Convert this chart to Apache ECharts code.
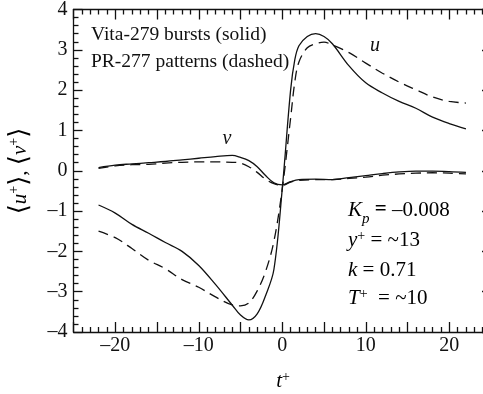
<!DOCTYPE html>
<html>
<head>
<meta charset="utf-8">
<script src="https://cdn.jsdelivr.net/npm/echarts@6/dist/echarts.min.js"></script>
<style>
  html, body { margin: 0; padding: 0; background: #fff; }
  #chart { width: 483px; height: 394px; }
</style>
</head>
<body>
<div id="chart"></div>
<script>
// t+ samples and conditionally averaged values
const tU = [-22, -20, -18, -16, -14, -12, -10, -8, -6, -5, -4, -3, -2, -1, 0, 1, 1.5, 2, 3, 4, 5, 6, 8, 10, 12, 14, 16, 18, 20, 22];
const uSolid = [-0.85, -1.05, -1.33, -1.55, -1.78, -2.00, -2.35, -2.82, -3.33, -3.58, -3.70, -3.55, -3.10, -2.45, -0.45, 2.00, 2.75, 3.10, 3.33, 3.40, 3.33, 3.15, 2.60, 2.18, 1.93, 1.72, 1.55, 1.33, 1.17, 1.04];
const uDashed = [-1.50, -1.66, -1.93, -2.22, -2.43, -2.70, -2.89, -3.13, -3.33, -3.35, -3.28, -2.98, -2.50, -1.75, -0.45, 1.30, 2.20, 2.70, 3.05, 3.15, 3.19, 3.12, 2.93, 2.67, 2.42, 2.20, 2.01, 1.83, 1.72, 1.68];

const tV = [-22, -20, -18, -16, -14, -12, -10, -8, -6, -5, -4, -3, -2, -1, 0, 1, 2, 4, 6, 8, 10, 12, 14, 16, 18, 20, 22];
const vSolid = [0.08, 0.14, 0.17, 0.20, 0.23, 0.27, 0.31, 0.35, 0.38, 0.33, 0.25, 0.10, -0.12, -0.30, -0.35, -0.27, -0.22, -0.21, -0.22, -0.17, -0.12, -0.07, -0.03, -0.01, -0.01, -0.02, -0.04];
const vDashed = [0.06, 0.12, 0.15, 0.16, 0.19, 0.21, 0.22, 0.22, 0.21, 0.19, 0.10, -0.04, -0.21, -0.32, -0.36, -0.28, -0.24, -0.22, -0.22, -0.19, -0.16, -0.11, -0.08, -0.06, -0.05, -0.06, -0.08];

const serif = 'Liberation Serif, DejaVu Serif, serif';
const ink = '#111';

function pairs(xs, ys) {
    return xs.map((x, i) => [x, ys[i]]);
}

function minusFmt(v) {
    return v < 0 ? '\u2013' + Math.abs(v) : String(v);
}

const chart = echarts.init(document.getElementById('chart'), null, { renderer: 'canvas' });

const richStyles = {
    n: { fontFamily: serif, fontSize: 21, color: ink },
    i: { fontFamily: serif, fontSize: 21, fontStyle: 'italic', color: ink },
    sup: { fontFamily: serif, fontSize: 14, color: ink, verticalAlign: 'top', lineHeight: 21 },
    sub: { fontFamily: serif, fontSize: 15, fontStyle: 'italic', color: ink, verticalAlign: 'bottom', padding: [0, 0, -6, 0] },
    b: { fontFamily: serif, fontSize: 21, fontWeight: 'bold', color: ink },
    br: { fontFamily: serif, fontSize: 26, color: ink }
};

function lineSeries(data, dashed) {
    return {
        type: 'line',
        data: data,
        showSymbol: false,
        smooth: 0.35,
        silent: true,
        lineStyle: { color: ink, width: 1.3, type: dashed ? [10, 6] : 'solid' }
    };
}

const xCommon = {
    type: 'value',
    min: -25,
    max: 25,
    interval: 5,
    axisLine: { onZero: false, lineStyle: { color: ink, width: 1.3 } },
    axisTick: { inside: true, length: 10, lineStyle: { color: ink, width: 1.3 } },
    minorTick: { show: true, splitNumber: 5, length: 5, lineStyle: { color: ink, width: 1.3 } },
    splitLine: { show: false },
    minorSplitLine: { show: false }
};

const yCommon = {
    type: 'value',
    min: -4,
    max: 4,
    interval: 1,
    axisLine: { onZero: false, lineStyle: { color: ink, width: 1.3 } },
    axisTick: { inside: true, length: 9, lineStyle: { color: ink, width: 1.3 } },
    minorTick: { show: true, splitNumber: 5, length: 5, lineStyle: { color: ink, width: 1.3 } },
    splitLine: { show: false },
    minorSplitLine: { show: false }
};

const option = {
    backgroundColor: '#fff',
    animation: false,
    grid: { left: 73.5, top: 9.5, right: -8, bottom: 62, outerBoundsMode: 'none' },
    xAxis: [
        Object.assign({}, xCommon, {
            position: 'bottom',
            axisLabel: {
                margin: 4,
                fontFamily: serif,
                fontSize: 20,
                color: ink,
                formatter: v => (v % 10 === 0 && Math.abs(v) < 25) ? minusFmt(v) : ''
            }
        }),
        Object.assign({}, xCommon, { position: 'top', axisLabel: { show: false } })
    ],
    yAxis: [
        Object.assign({}, yCommon, {
            position: 'left',
            axisLabel: { margin: 6, fontFamily: serif, fontSize: 20, color: ink, formatter: minusFmt }
        }),
        Object.assign({}, yCommon, { position: 'right', axisLabel: { show: false } })
    ],
    series: [
        lineSeries(pairs(tU, uSolid), false),
        lineSeries(pairs(tU, uDashed), true),
        lineSeries(pairs(tV, vSolid), false),
        lineSeries(pairs(tV, vDashed), true)
    ],
    graphic: [
        { type: 'text', x: 91, y: 35, style: { text: 'Vita-279 bursts (solid)', font: '19.5px ' + serif, fill: ink, verticalAlign: 'middle' } },
        { type: 'text', x: 91, y: 62, style: { text: 'PR-277 patterns (dashed)', font: '19.5px ' + serif, fill: ink, verticalAlign: 'middle' } },
        { type: 'text', x: 375, y: 46, style: { text: 'u', font: 'italic 20px ' + serif, fill: ink, align: 'center', verticalAlign: 'middle' } },
        { type: 'text', x: 227, y: 139, style: { text: 'v', font: 'italic 20px ' + serif, fill: ink, align: 'center', verticalAlign: 'middle' } },
        { type: 'text', x: 348, y: 210, style: { text: '{i|K}{sub|p}{b| =}{n| \u20130.008}', rich: richStyles, verticalAlign: 'middle' } },
        { type: 'text', x: 348, y: 240, style: { text: '{i|y}{sup|+}{n| = ~13}', rich: richStyles, verticalAlign: 'middle' } },
        { type: 'text', x: 348, y: 270, style: { text: '{i|k}{n| = 0.71}', rich: richStyles, verticalAlign: 'middle' } },
        { type: 'text', x: 348, y: 298, style: { text: '{i|T}{sup|+}{n|  = ~10}', rich: richStyles, verticalAlign: 'middle' } },
        { type: 'text', x: 283, y: 381, style: { text: '{i|t}{sup|+}', rich: richStyles, align: 'center', verticalAlign: 'middle' } },
        { type: 'text', x: 20, y: 171, rotation: Math.PI / 2, style: { text: '{br|\u27E8}{i|u}{sup|+}{br|\u27E9}{n|, }{br|\u27E8}{i|v}{sup|+}{br|\u27E9}', rich: richStyles, align: 'center', verticalAlign: 'middle' } }
    ]
};

chart.setOption(option);
</script>
</body>
</html>
